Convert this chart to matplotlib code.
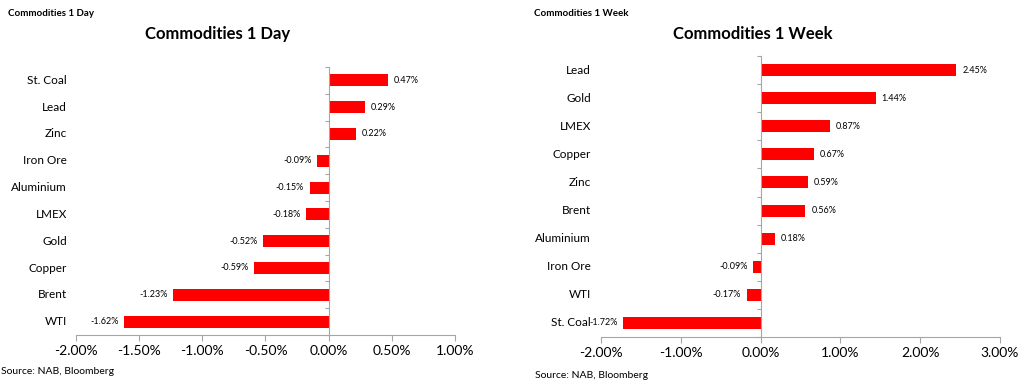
import numpy as np
import matplotlib.pyplot as plt
import matplotlib.transforms as mtransforms
from matplotlib.ticker import FuncFormatter

plt.rcParams['font.family'] = ['Lato', 'DejaVu Sans']

# data (in %)
day_names = ['St. Coal', 'Lead', 'Zinc', 'Iron Ore', 'Aluminium', 'LMEX', 'Gold', 'Copper', 'Brent', 'WTI']
day_values = [0.47, 0.29, 0.22, -0.09, -0.15, -0.18, -0.52, -0.59, -1.23, -1.62]

week_names = ['Lead', 'Gold', 'LMEX', 'Copper', 'Zinc', 'Brent', 'Aluminium', 'Iron Ore', 'WTI', 'St. Coal']
week_values = [2.45, 1.44, 0.87, 0.67, 0.59, 0.56, 0.18, -0.09, -0.17, -1.72]

day_ticks = [-2.0, -1.5, -1.0, -0.5, 0.0, 0.5, 1.0]
week_ticks = [-2.0, -1.0, 0.0, 1.0, 2.0, 3.0]

fig = plt.figure(figsize=(10.24, 3.89), dpi=100)


def draw_panel(rect, names, values, ticks, label_x, bar_h):
    ax = fig.add_axes(rect)
    n = len(names)
    y = np.arange(n)[::-1]
    ax.barh(y, values, height=bar_h, color='#ff0000', zorder=2)
    ax.set_xlim(ticks[0], ticks[-1])
    ax.set_ylim(-0.5, n - 0.5)

    for s in ['top', 'right']:
        ax.spines[s].set_visible(False)
    ax.spines['bottom'].set_color('#a6a6a6')
    ax.spines['left'].set_color('#a6a6a6')
    ax.spines['left'].set_position(('data', 0))

    ax.set_xticks(ticks)
    ax.xaxis.set_major_formatter(FuncFormatter(lambda v, p: f'{v:.2f}%'))
    ax.tick_params(axis='x', length=4, color='#a6a6a6', labelsize=10, pad=3)
    ax.set_yticks(np.arange(n + 1) - 0.5)
    ax.set_yticklabels([])
    ax.tick_params(axis='y', length=3, color='#a6a6a6')

    # category labels to the left of the plot
    trans = mtransforms.blended_transform_factory(fig.transFigure, ax.transData)
    for yi, name in zip(y, names):
        ax.text(label_x, yi, name, transform=trans, ha='right', va='center', fontsize=8.5)

    # value labels
    span = ticks[-1] - ticks[0]
    for yi, v in zip(y, values):
        off = 0.015 * span
        if v >= 0:
            ax.text(v + off, yi, f'{v:.2f}%', ha='left', va='center', fontsize=6.5)
        else:
            ax.text(v - off, yi, f'{v:.2f}%', ha='right', va='center', fontsize=6.5)
    return ax


draw_panel([76 / 1024, 1 - 335 / 389, 379 / 1024, 268 / 389],
           day_names, day_values, day_ticks, 67 / 1024, 0.45)
draw_panel([601 / 1024, 1 - 337 / 389, 399 / 1024, 281 / 389],
           week_names, week_values, week_ticks, 591 / 1024, 0.43)

# titles
fig.text(8 / 1024, 1 - 14 / 389, 'Commodities 1 Day', fontsize=7, fontweight='bold', va='center')
fig.text(534 / 1024, 1 - 14 / 389, 'Commodities 1 Week', fontsize=7, fontweight='bold', va='center')
fig.text(218 / 1024, 1 - 34 / 389, 'Commodities 1 Day', fontsize=12, fontweight='bold', ha='center', va='center')
fig.text(753 / 1024, 1 - 34 / 389, 'Commodities 1 Week', fontsize=12, fontweight='bold', ha='center', va='center')

# sources
fig.text(1 / 1024, 1 - 372 / 389, 'Source: NAB, Bloomberg', fontsize=7.5, va='center')
fig.text(535 / 1024, 1 - 376 / 389, 'Source: NAB, Bloomberg', fontsize=7.5, va='center')

fig.savefig('out.png', dpi=100)
